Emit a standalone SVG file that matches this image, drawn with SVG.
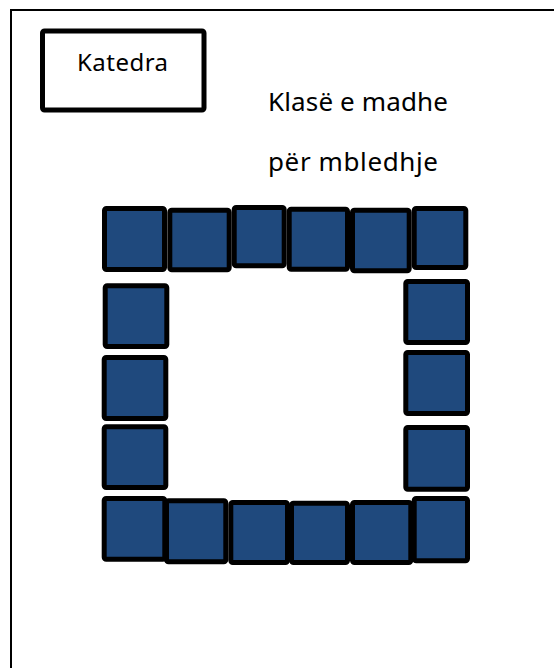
<svg xmlns="http://www.w3.org/2000/svg" width="554" height="668" viewBox="0 0 554 668">
<style>
.frame{fill:none;stroke:#000;stroke-width:2}
.box{fill:#fff;stroke:#000;stroke-width:5}
.seat{fill:#1F497D;stroke:#000;stroke-width:5}
text{font-family:"Noto Sans","Open Sans","Liberation Sans",sans-serif;fill:#000}
.t1{font-size:24px}
.t2{font-size:26px}
</style>
<rect width="554" height="668" fill="#fff"/>
<g id="frame"><path class="frame" d="M11,668 V10 H554"/></g>
<g id="katedra">
<rect class="box" x="42.5" y="31" width="161.5" height="79" rx="2"/>
<text class="t1" x="77" y="71" textLength="91">Katedra</text>
</g>
<g id="title">
<text class="t2" x="268" y="111" textLength="180">Klasë e madhe</text>
<text class="t2" x="268" y="171" textLength="170">për mbledhje</text>
</g>
<g id="seats-top">
<rect class="seat" x="104.5" y="208.5" width="60" height="61" rx="2"/>
<rect class="seat" x="169.8" y="210.2" width="59.4" height="59.6" rx="2"/>
<rect class="seat" x="234.2" y="207.5" width="50" height="58.3" rx="2"/>
<rect class="seat" x="289.2" y="209.2" width="58.3" height="60" rx="2"/>
<rect class="seat" x="352.5" y="210.2" width="56.7" height="60.6" rx="2"/>
<rect class="seat" x="414.2" y="208.5" width="51.6" height="59" rx="2"/>
</g>
<g id="seats-left">
<rect class="seat" x="105.2" y="285.8" width="61.6" height="60.7" rx="2"/>
<rect class="seat" x="104.2" y="357.5" width="61.6" height="61" rx="2"/>
<rect class="seat" x="104.2" y="426.8" width="61.6" height="60.7" rx="2"/>
</g>
<g id="seats-right">
<rect class="seat" x="405.8" y="281.5" width="61.7" height="61" rx="2"/>
<rect class="seat" x="405.8" y="352.5" width="61.7" height="61" rx="2"/>
<rect class="seat" x="405.8" y="427.5" width="61.7" height="61.7" rx="2"/>
</g>
<g id="seats-bottom">
<rect class="seat" x="104.2" y="498.5" width="60.6" height="60.7" rx="2"/>
<rect class="seat" x="166.5" y="500.8" width="59.3" height="61" rx="2"/>
<rect class="seat" x="230.8" y="502.5" width="56.7" height="60" rx="2"/>
<rect class="seat" x="291.5" y="503.2" width="56" height="59.3" rx="2"/>
<rect class="seat" x="352.5" y="502.5" width="58.3" height="60" rx="2"/>
<rect class="seat" x="414.2" y="498.5" width="53.3" height="62.3" rx="2"/>
</g>
<g id="connectors"/>
</svg>
